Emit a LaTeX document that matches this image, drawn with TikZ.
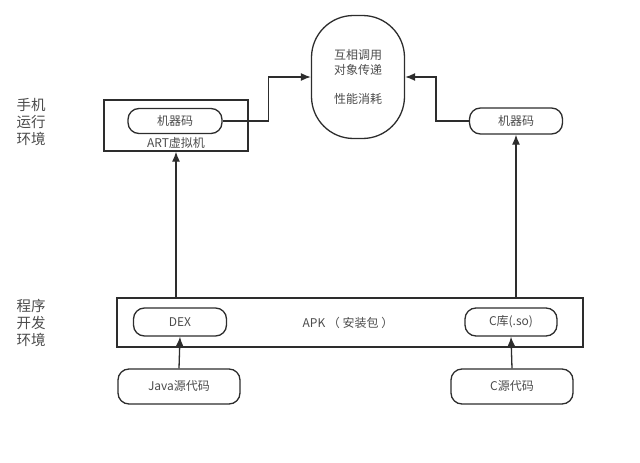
\documentclass[tikz,border=0pt]{standalone}
\usepackage{fontspec}
\setmainfont{Noto Sans CJK SC}
\usetikzlibrary{arrows.meta, positioning}
\definecolor{linegray}{RGB}{45, 45, 45}
\definecolor{textgray}{RGB}{75, 75, 75}

\begin{document}
\begin{tikzpicture}[
    x=1pt, y=-1pt,
    pill/.style={rectangle, rounded corners=11pt, draw=linegray, line width=1.3pt, minimum width=#1, inner sep=0pt, text=textgray, font=\fontsize{12}{14}\selectfont},
    frame/.style={rectangle, draw=linegray, line width=1.3pt, inner sep=0pt},
    arr/.style={-{Latex[length=10pt, width=8pt]}, line width=1.3pt, linegray},
    side/.style={align=left, text=textgray, font=\fontsize{14.5}{16.8}\selectfont}
]
\useasboundingbox (0,0) rectangle (640,463);

% runtime
\node[frame, minimum width=144pt, minimum height=51pt] (art) at (176,125.5) {};
\node[pill=94pt, minimum height=25pt] (mL) at (175,121) {机器码};
\node[text=textgray, font=\fontsize{12}{14}\selectfont] (artlbl) at (176,143) {ART虚拟机};
\node[pill=93pt, minimum height=26pt] (mR) at (516,121) {机器码};
\node[rectangle, rounded corners=42pt, draw=linegray, line width=1.3pt, minimum width=93pt, minimum height=123pt, align=center, text=textgray, font=\fontsize{12}{14.5}\selectfont] (core) at (358,77) {互相调用\\对象传递\\ \\性能消耗};

% build
\node[frame, minimum width=466pt, minimum height=49pt] (apk) at (350,322.5) {};
\node[pill=93pt, minimum height=28pt] (dex) at (180,322) {DEX};
\node[text=textgray, font=\fontsize{12}{14}\selectfont] (apklbl) at (348,323) {APK （ 安装包 ）};
\node[pill=92pt, minimum height=28pt] (clib) at (511,322) {C库(.so)};
\node[pill=122pt, minimum height=35pt] (java) at (179,386.5) {Java源代码};
\node[pill=122pt, minimum height=35pt] (csrc) at (512,386.5) {C源代码};

\node[side] (envrun) at (31,122) {手机\\运行\\环境};
\node[side] (envdev) at (31,323) {程序\\开发\\环境};

\draw[arr] (java.north) -- (dex.south);
\draw[arr] (csrc.north) -- (clib.south);
\draw[arr] (apk.north -| art.south) -- (art.south);
\draw[arr] (apk.north -| mR.south) -- (mR.south);
\draw[arr] (mL.east) -- ++(46,0) |- (core.west);
\draw[arr] (mR.west) -- ++(-33,0) |- (core.east);

\end{tikzpicture}
\end{document}
